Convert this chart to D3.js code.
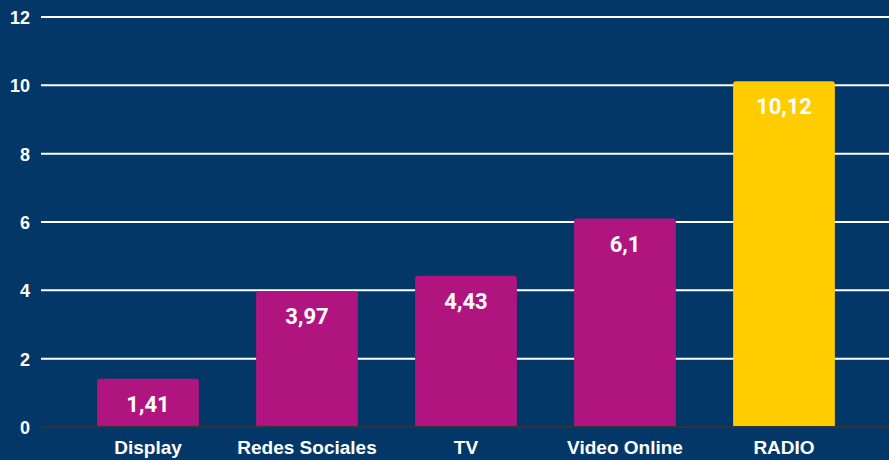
<!DOCTYPE html>
<html>
  <head>
    <meta charset="utf-8">
    <title>Medios</title>
    <script type="text/javascript" src="https://cdn.jsdelivr.net/npm/d3@7"></script>
    <style type='text/css'>
      body { margin: 0; background: #023768; }
      svg { display: block; }
      text { font-family: Roboto, "Liberation Sans", sans-serif; font-weight: bold; fill: #fff; }
      .axis text { font-family: "Liberation Sans", Arial, sans-serif; }
    </style>
  </head>
  <body>
    <script type="text/javascript">
      var categories = ['Display', 'Redes Sociales', 'TV', 'Video Online', 'RADIO'];
      var values = [1.41, 3.97, 4.43, 6.1, 10.12];
      var labels = ['1,41', '3,97', '4,43', '6,1', '10,12'];
      var yTicks = [0, 2, 4, 6, 8, 10, 12];

      var w = 889;
      var h = 460;

      var svg = d3.select('body')
                  .append('svg')
                  .attr('width', w)
                  .attr('height', h);

      svg.append('rect')
          .attr('width', w)
          .attr('height', h)
          .attr('fill', '#023768');

      var xScale = d3.scaleBand()
                      .domain(categories)
                      .range([68.5, 863.5])
                      .paddingInner(0.36)
                      .paddingOuter(0.18);

      var yScale = d3.scaleLinear()
                      .domain([0, 12])
                      .range([427, 17]);

      // gridlines
      svg.selectAll('line.grid')
        .data(yTicks.filter(function(d) {return d > 0;}))
        .enter()
        .append('line')
        .attr('class', 'grid')
        .attr('x1', 41)
        .attr('x2', w)
        .attr('y1', function(d) {return yScale(d);})
        .attr('y2', function(d) {return yScale(d);})
        .attr('stroke', '#ffffff')
        .attr('stroke-width', 2);

      var yAxis = d3.axisLeft(yScale)
                    .tickValues(yTicks)
                    .tickSize(0)
                    .tickPadding(11);

      var gy = svg.append('g')
          .attr('class', 'axis')
          .attr('transform', 'translate(41,0)')
          .call(yAxis);
      gy.select('.domain').remove();
      gy.selectAll('text')
          .style('font-size', '18px')
          .attr('dy', '0.36em');

      var r = 3;
      svg.selectAll('path.bar')
        .data(values)
        .enter()
        .append('path')
        .attr('class', 'bar')
        .attr('fill', function(d, i) {return i === values.length - 1 ? '#ffcc00' : '#b0157f';})
        .attr('d', function(d, i) {
          var x0 = xScale(categories[i]);
          var x1 = x0 + xScale.bandwidth();
          var y0 = yScale(d);
          var y1 = yScale(0);
          return 'M' + x0 + ',' + y1 +
                 'V' + (y0 + r) +
                 'Q' + x0 + ',' + y0 + ' ' + (x0 + r) + ',' + y0 +
                 'H' + (x1 - r) +
                 'Q' + x1 + ',' + y0 + ' ' + x1 + ',' + (y0 + r) +
                 'V' + y1 + 'Z';
        });

      // zero line
      svg.append('line')
          .attr('x1', 41)
          .attr('x2', w)
          .attr('y1', yScale(0))
          .attr('y2', yScale(0))
          .attr('stroke', '#333333')
          .attr('stroke-width', 2);

      svg.selectAll('text.value')
        .data(values)
        .enter()
        .append('text')
        .attr('class', 'value')
        .attr('x', function(d, i) {return xScale(categories[i]) + xScale.bandwidth() / 2;})
        .attr('y', function(d) {return yScale(d) + 33;})
        .attr('text-anchor', 'middle')
        .style('font-size', '22px')
        .text(function(d, i) {return labels[i];});

      var xAxis = d3.axisBottom(xScale)
                    .tickSize(0)
                    .tickPadding(14);

      var gx = svg.append('g')
          .attr('class', 'axis')
          .attr('transform', 'translate(0,' + yScale(0) + ')')
          .call(xAxis);
      gx.select('.domain').remove();
      gx.selectAll('text')
          .style('font-size', '19px');
    </script>
  </body>
</html>
